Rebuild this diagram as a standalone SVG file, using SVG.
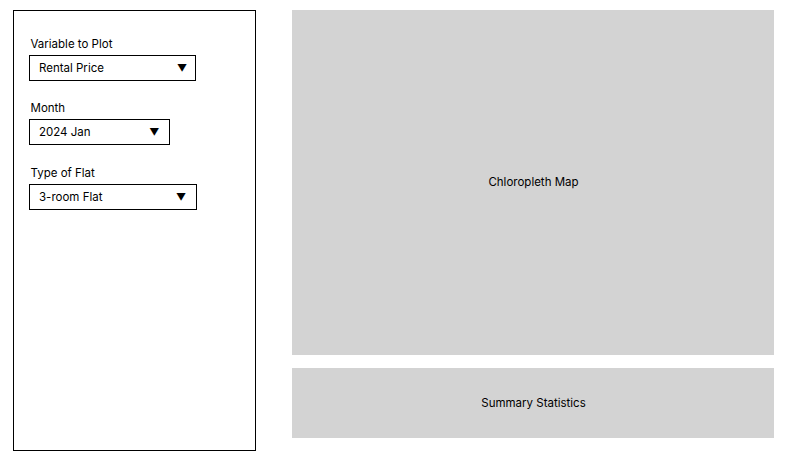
<svg xmlns="http://www.w3.org/2000/svg" width="791" height="461" viewBox="0 0 791 461">
<style>
text{font-family:Inter,"Liberation Sans",sans-serif;font-size:11.5px;fill:#000}
.box{fill:#fff;stroke:#000;stroke-width:1}
.panel{fill:#d3d3d3}
.c{text-anchor:middle}
.tri{font-size:10px}
</style>
<rect width="791" height="461" fill="#fff"/>
<g id="sidebar">
<rect class="box" x="13.5" y="10.5" width="242" height="440"/>
</g>
<g id="var-label"><text x="30.5" y="48">Variable to Plot</text></g>
<g id="var-select">
<rect class="box" x="29.5" y="55.5" width="166" height="25"/>
<text x="39" y="72.3">Rental Price</text>
<text class="tri" x="177" y="72">▼</text>
</g>
<g id="month-label"><text x="30.5" y="112">Month</text></g>
<g id="month-select">
<rect class="box" x="29.5" y="119.5" width="140" height="25"/>
<text x="39" y="136.3">2024 Jan</text>
<text class="tri" x="149.3" y="136">▼</text>
</g>
<g id="flat-label"><text x="30.5" y="177">Type of Flat</text></g>
<g id="flat-select">
<rect class="box" x="29.5" y="184.5" width="167" height="25"/>
<text x="39" y="201.3">3-room Flat</text>
<text class="tri" x="176" y="201">▼</text>
</g>
<g id="map">
<rect class="panel" x="292" y="10" width="482" height="345"/>
<text class="c" x="533.5" y="186">Chloropleth Map</text>
</g>
<g id="summary">
<rect class="panel" x="292" y="368" width="482" height="70"/>
<text class="c" x="533.5" y="406.7">Summary Statistics</text>
</g>
<g id="connectors"/>
</svg>
